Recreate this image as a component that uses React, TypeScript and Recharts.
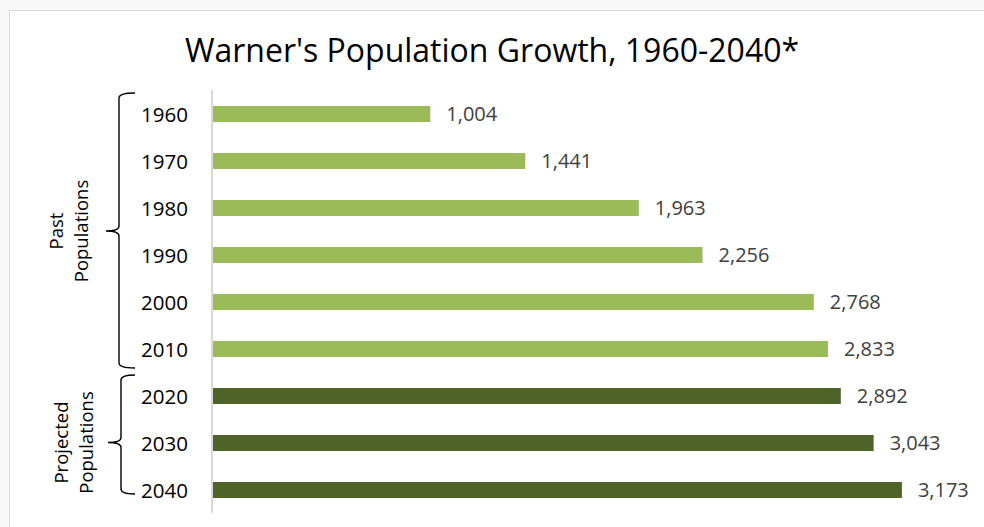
import React from 'react';
import { BarChart, Bar, XAxis, YAxis, Cell, LabelList } from 'recharts';

const years = ['1960', '1970', '1980', '1990', '2000', '2010', '2020', '2030', '2040'];
const population = [1004, 1441, 1963, 2256, 2768, 2833, 2892, 3043, 3173];
const projectedFrom = '2020';
const groups = [
  { lines: ['Past', 'Populations'], first: 0, last: 5 },
  { lines: ['Projected', 'Populations'], first: 6, last: 8 },
];

const PAST = '#9bbb59';
const PROJECTED = '#4f6228';
const FONT = '"Open Sans", sans-serif';

const W = 984;
const H = 527;
const TOP = 90;
const BOTTOM = 14;
const BAND = (H - TOP - BOTTOM) / years.length;

if (typeof document !== 'undefined') {
  document.body.style.margin = '0';
  document.body.style.overflow = 'hidden';
}

const data = years.map((year, i) => ({
  year,
  value: population[i],
  projected: Number(year) >= Number(projectedFrom),
}));

function YearTick(props: any) {
  const { x, y, index, payload } = props;
  const group = groups.find((g) => g.first === index);
  let bracket = null;
  if (group) {
    const isLastGroup = group === groups[groups.length - 1];
    const top = y - BAND / 2 + 3;
    const lastCenter = y + (group.last - group.first) * BAND;
    const bottom = isLastGroup ? lastCenter + 4.5 : lastCenter + BAND / 2 - 4;
    const mid = (y + lastCenter) / 2;
    const vx = x - 85 + (isLastGroup ? 2 : 0);
    const hx = x - 69;
    const nx = vx - 13;
    const d = `M ${hx} ${top} Q ${vx} ${top} ${vx} ${top + 5} L ${vx} ${mid - 5} Q ${vx} ${mid} ${nx} ${mid} Q ${vx} ${mid} ${vx} ${mid + 5} L ${vx} ${bottom - 5} Q ${vx} ${bottom} ${hx} ${bottom}`;
    const cx = isLastGroup ? x - 131 : x - 136;
    bracket = (
      <g>
        <path d={d} fill="none" stroke="#000" strokeWidth={1.4} />
        {group.lines.map((line, i) => {
          const lx = cx + (i - 0.5) * 25;
          return (
            <text
              key={line}
              x={lx}
              y={mid}
              textAnchor="middle"
              dominantBaseline="central"
              transform={`rotate(-90, ${lx}, ${mid})`}
              fontSize={18.5}
              fontFamily={FONT}
              fill="#000"
            >
              {line}
            </text>
          );
        })}
      </g>
    );
  }
  return (
    <g>
      <text
        x={x - 16}
        y={y}
        textAnchor="end"
        dominantBaseline="central"
        fontSize={20.5}
        fontFamily={FONT}
        fill="#000"
      >
        {payload.value}
      </text>
      {bracket}
    </g>
  );
}

export default function App() {
  return (
    <div
      style={{
        position: 'relative',
        width: W,
        height: H,
        background: '#f8f8f8',
        overflow: 'hidden',
      }}
    >
      <div
        style={{
          position: 'absolute',
          left: 9,
          top: 10,
          width: W + 60,
          height: H + 60,
          background: '#fff',
          border: '1px solid #d9d9d9',
        }}
      />
      <div
        style={{
          position: 'absolute',
          left: 0,
          top: 28,
          width: W,
          textAlign: 'center',
          fontFamily: FONT,
          fontSize: 32,
          color: '#000',
        }}
      >
        Warner's Population Growth, 1960-2040*
      </div>
      <div style={{ position: 'absolute', left: 0, top: 0 }}>
        <BarChart
          width={W}
          height={H}
          data={data}
          layout="vertical"
          margin={{ top: TOP, right: 11, bottom: BOTTOM, left: 0 }}
        >
          <XAxis type="number" domain={[0, 3500]} hide />
          <YAxis
            type="category"
            dataKey="year"
            width={212}
            axisLine={{ stroke: '#d9d9d9', strokeWidth: 2 }}
            tickLine={false}
            tick={<YearTick />}
            interval={0}
          />
          <Bar dataKey="value" barSize={16} isAnimationActive={false}>
            {data.map((d) => (
              <Cell key={d.year} fill={d.projected ? PROJECTED : PAST} />
            ))}
            <LabelList
              dataKey="value"
              position="right"
              offset={16}
              fill="#404040"
              fontSize={20}
              fontFamily={FONT}
              formatter={(v: any) => Number(v).toLocaleString('en-US')}
            />
          </Bar>
        </BarChart>
      </div>
    </div>
  );
}
